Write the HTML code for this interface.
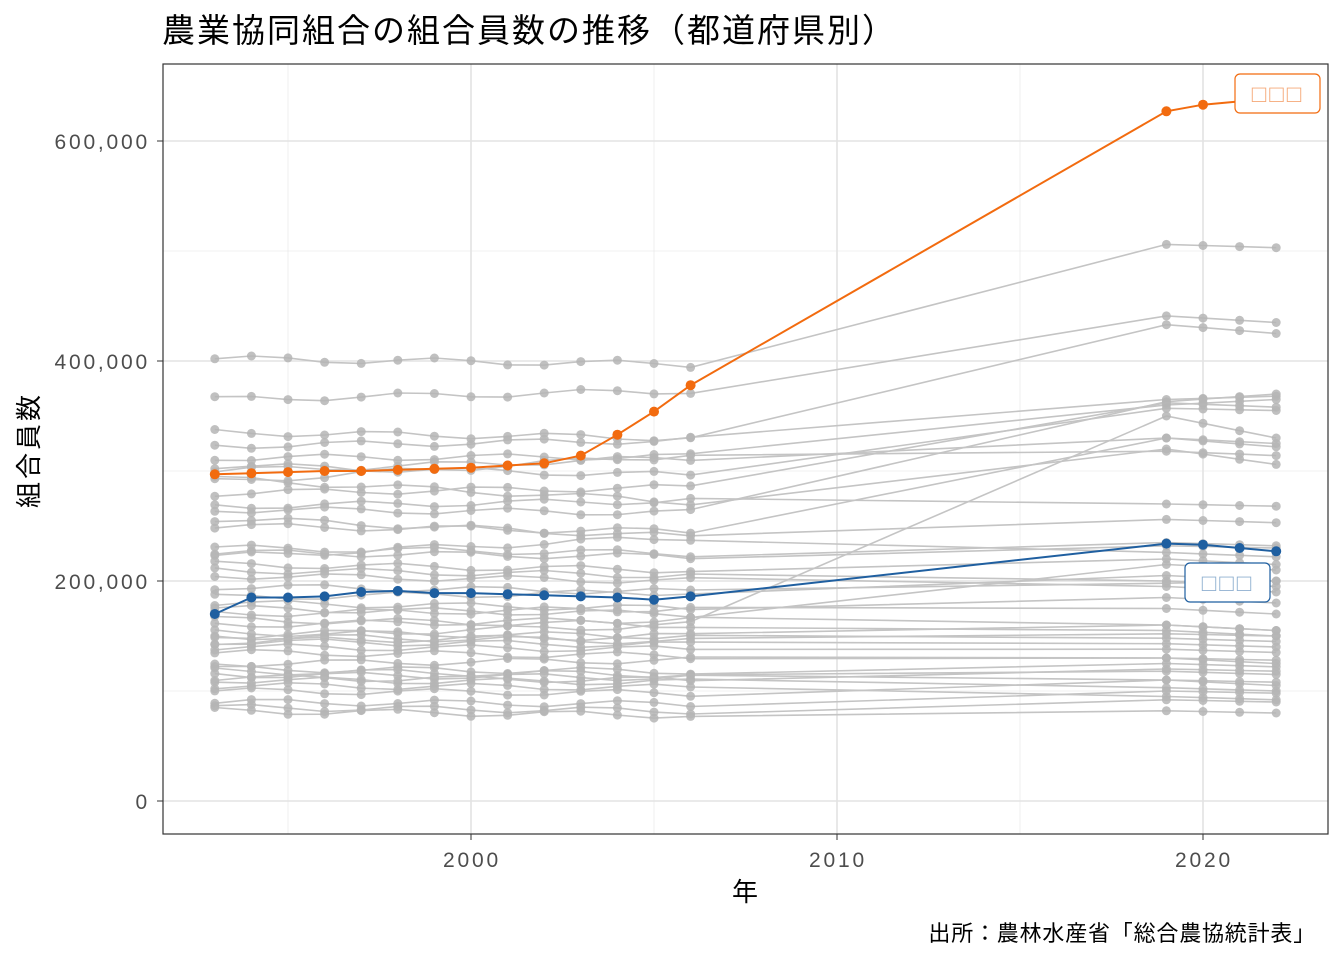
<!DOCTYPE html>
<html><head><meta charset="utf-8">
<style>
html,body{margin:0;padding:0;background:#fff;}
svg text{font-family:"Liberation Sans","Noto Sans CJK JP",sans-serif;}
</style></head>
<body>
<svg id="c" width="1344" height="960" xmlns="http://www.w3.org/2000/svg">
<rect width="1344" height="960" fill="#fff"/>
<text x="162" y="42" font-size="33" letter-spacing="2" fill="#000">農業協同組合の組合員数の推移（都道府県別）</text>
<g id="grid"></g>
<g id="gray"></g>
<g id="hl"></g>
<rect x="163" y="64" width="1165" height="770" fill="none" stroke="#333" stroke-width="1.2"/>
<g font-size="21" fill="#4d4d4d" text-anchor="end" letter-spacing="2.8">
<text x="150" y="809">0</text>
<text x="150" y="589">200,000</text>
<text x="150" y="369">400,000</text>
<text x="150" y="149">600,000</text>
</g>
<g font-size="21" fill="#4d4d4d" text-anchor="middle" letter-spacing="2.8">
<text x="472" y="867">2000</text>
<text x="838" y="867">2010</text>
<text x="1204" y="867">2020</text>
</g>
<text x="745" y="901" font-size="26" text-anchor="middle">年</text>
<text transform="translate(38,450) rotate(-90)" font-size="26" letter-spacing="3" text-anchor="middle">組合員数</text>
<text x="1316" y="941" font-size="22" letter-spacing="0.8" text-anchor="end">出所：農林水産省「総合農協統計表」</text>
<g id="lab"></g>
</svg>
<script>
const X=y=>471+(y-2000)*36.6, Y=v=>801-v*1.1;
const yrs=[1993,1994,1995,1996,1997,1998,1999,2000,2001,2002,2003,2004,2005,2006,2019,2020,2021,2022];
let g=document.getElementById('grid'),s='';
[100,300,500].forEach(v=>s+=`<line x1="163" x2="1328" y1="${Y(v)}" y2="${Y(v)}" stroke="#ebebeb" stroke-width="0.8"/>`);
[1995,2005,2015].forEach(v=>s+=`<line y1="64" y2="834" x1="${X(v)}" x2="${X(v)}" stroke="#ebebeb" stroke-width="0.8"/>`);
[0,200,400,600].forEach(v=>s+=`<line x1="163" x2="1328" y1="${Y(v)}" y2="${Y(v)}" stroke="#e3e3e3" stroke-width="1.6"/>`);
[2000,2010,2020].forEach(v=>s+=`<line y1="64" y2="834" x1="${X(v)}" x2="${X(v)}" stroke="#e3e3e3" stroke-width="1.6"/>`);
[0,200,400,600].forEach(v=>s+=`<line x1="157" x2="163" y1="${Y(v)}" y2="${Y(v)}" stroke="#333" stroke-width="1"/>`);
[2000,2010,2020].forEach(v=>s+=`<line y1="834" y2="840" x1="${X(v)}" x2="${X(v)}" stroke="#333" stroke-width="1"/>`);
g.innerHTML=s;
const D=[[402,397,506,503],[365,373,441,435],[335,330,433,425],[323,328,365,368],[312,313,360,365],[305,296,357,355],[300,312,330,322],[293,272,320,306],[290,315,318,314],[268,273,270,268],[265,262,363,370],[257,240,256,253],[226,222,232,230],[222,240,226,222],[215,210,220,215],[210,205,200,195],[205,200,195,190],[195,190,198,200],[180,175,185,180],[175,170,160,155],[165,160,155,150],[153,150,148,145],[150,145,152,150],[145,142,143,140],[140,138,138,135],[135,132,130,128],[120,118,125,122],[118,115,118,115],[115,112,110,105],[110,108,103,100],[105,103,95,92],[90,88,100,98],[85,82,92,90],[82,78,82,80],[160,165,215,210],[150,160,350,330],[280,285,362,358],[250,245,330,325],[230,225,235,232],[185,190,205,200],[170,175,175,170],[125,128,130,125],[145,150,160,155],[112,110,120,118],[100,98,110,108]];
let gs='';
D.forEach((d,i)=>{
 let vals=yrs.map((y,j)=>{
  if(j<14){let t=j/13;return d[0]+(d[1]-d[0])*t+3*Math.sin(j*1.3+i);}
  let t=(j-14)/3;return d[2]+(d[3]-d[2])*t;});
 let pts=vals.map((v,j)=>X(yrs[j]).toFixed(1)+','+Y(v).toFixed(1));
 gs+=`<polyline points="${pts.join(' ')}" fill="none" stroke="#c4c4c4" stroke-width="1.6"/>`;
 vals.forEach((v,j)=>gs+=`<circle cx="${X(yrs[j]).toFixed(1)}" cy="${Y(v).toFixed(1)}" r="4.5" fill="#b5b5b5" fill-opacity="0.85"/>`);
});
document.getElementById('gray').innerHTML=gs;
const O=[297,298,299,300,300,301,302,303,305,307,314,333,354,378,627,633,636,640];
const B=[170,185,185,186,190,191,189,189,188,187,186,185,183,186,234,233,230,227];
let hs='';
[[O,'#f26b0f'],[B,'#1f5fa0']].forEach(([a,c])=>{
 hs+=`<polyline points="${a.map((v,j)=>X(yrs[j]).toFixed(1)+','+Y(v).toFixed(1)).join(' ')}" fill="none" stroke="${c}" stroke-width="2"/>`;
 a.forEach((v,j)=>hs+=`<circle cx="${X(yrs[j]).toFixed(1)}" cy="${Y(v).toFixed(1)}" r="5" fill="${c}"/>`);
});
document.getElementById('hl').innerHTML=hs;
document.getElementById('lab').innerHTML=
`<rect x="1235" y="74" width="85" height="39" rx="5" fill="#fff" stroke="#f26b0f" stroke-width="1.2"/>
<text x="1278" y="102" font-size="24" letter-spacing="3" fill="#f5a878" text-anchor="middle">□□□</text>
<rect x="1185" y="563" width="85" height="39" rx="5" fill="#fff" stroke="#1f5fa0" stroke-width="1.2"/>
<text x="1228" y="591" font-size="24" letter-spacing="3" fill="#8fb0d0" text-anchor="middle">□□□</text>`;
</script>
</body></html>
